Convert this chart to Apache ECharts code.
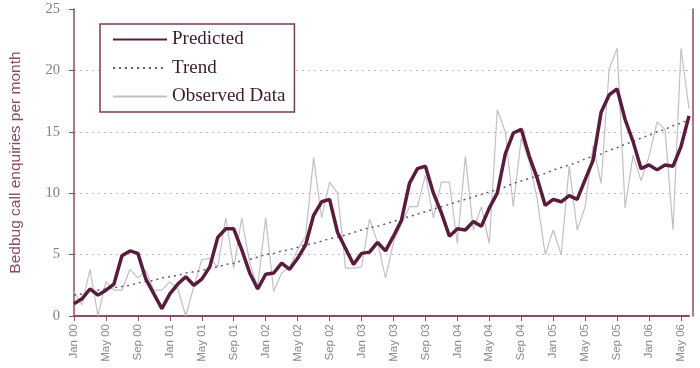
<!DOCTYPE html>
<html><head><meta charset="utf-8">
<script src="https://cdn.jsdelivr.net/npm/echarts@6/dist/echarts.min.js"></script>
<style>html,body{margin:0;padding:0;background:#fff}#c{width:700px;height:368px}</style>
</head><body><div id="c"></div>
<script>
const months = ['Jan 00','Feb 00','Mar 00','Apr 00','May 00','Jun 00','Jul 00','Aug 00','Sep 00','Oct 00','Nov 00','Dec 00',
'Jan 01','Feb 01','Mar 01','Apr 01','May 01','Jun 01','Jul 01','Aug 01','Sep 01','Oct 01','Nov 01','Dec 01',
'Jan 02','Feb 02','Mar 02','Apr 02','May 02','Jun 02','Jul 02','Aug 02','Sep 02','Oct 02','Nov 02','Dec 02',
'Jan 03','Feb 03','Mar 03','Apr 03','May 03','Jun 03','Jul 03','Aug 03','Sep 03','Oct 03','Nov 03','Dec 03',
'Jan 04','Feb 04','Mar 04','Apr 04','May 04','Jun 04','Jul 04','Aug 04','Sep 04','Oct 04','Nov 04','Dec 04',
'Jan 05','Feb 05','Mar 05','Apr 05','May 05','Jun 05','Jul 05','Aug 05','Sep 05','Oct 05','Nov 05','Dec 05',
'Jan 06','Feb 06','Mar 06','Apr 06','May 06','Jun 06'];

const predicted = [1.0,1.4,2.2,1.7,2.1,2.6,4.9,5.3,5.1,3.0,1.8,0.6,
1.8,2.6,3.2,2.5,3.0,4.0,6.4,7.1,7.1,5.4,3.5,2.2,
3.4,3.5,4.3,3.8,4.7,5.8,8.2,9.3,9.5,6.8,5.5,4.2,
5.1,5.2,6.0,5.3,6.5,7.8,10.8,12.0,12.2,10.0,8.4,6.5,
7.1,7.0,7.7,7.3,8.8,10.0,13.2,14.9,15.2,13.0,11.2,9.0,
9.5,9.3,9.8,9.5,11.1,12.7,16.6,18.0,18.5,16.0,14.2,12.0,
12.3,11.9,12.3,12.2,13.8,16.3];

const observed = [2.0,0.9,3.8,0.0,2.8,2.1,2.1,3.8,3.1,3.7,2.1,2.1,
2.8,2.2,0.0,2.4,4.6,4.7,4.0,8.0,3.9,8.0,4.3,2.4,
8.0,2.0,3.5,4.0,5.4,6.5,12.9,8.0,10.9,10.0,3.9,3.9,
4.0,7.9,6.0,3.1,6.0,7.5,8.9,8.9,11.5,8.0,10.9,10.9,
5.9,13.0,7.0,8.9,5.9,16.8,15.0,8.9,14.5,12.6,9.5,5.0,
7.0,5.0,12.2,7.0,8.9,13.9,10.8,20.1,21.8,8.8,13.1,11.0,
13.0,15.8,15.2,7.0,21.8,16.9];

const trend = [1.7,1.8,1.9,2.1,2.2,2.3,2.4,2.5,2.7,2.8,2.9,3.1,
3.2,3.3,3.5,3.6,3.7,3.9,4.0,4.2,4.3,4.5,4.6,4.8,
5.0,5.1,5.3,5.4,5.6,5.8,5.9,6.1,6.3,6.4,6.6,6.8,
7.0,7.2,7.3,7.5,7.7,7.9,8.1,8.3,8.5,8.7,8.9,9.1,
9.3,9.5,9.7,9.9,10.1,10.3,10.5,10.8,11.0,11.2,11.4,11.6,
11.9,12.1,12.3,12.5,12.8,13.0,13.2,13.5,13.7,14.0,14.2,14.5,
14.7,15.0,15.2,15.5,15.7,16.0];

const yTicks = [0,5,10,15,20,25];
const seriesNames = ['Predicted','Trend','Observed Data'];

const axisColor = '#8a4a68';
const chart = echarts.init(document.getElementById('c'));
chart.setOption({
  animation: false,
  backgroundColor: '#ffffff',
  grid: {left: 66, right: 11, top: 9, bottom: 52, containLabel: false},
  legend: {
    data: seriesNames,
    orient: 'vertical',
    left: 100, top: 24,
    padding: [6, 9, 6, 12],
    itemGap: 9.5,
    itemWidth: 54, itemHeight: 14,
    borderColor: '#7a3a5a', borderWidth: 1.5,
    backgroundColor: '#ffffff',
    itemStyle: {opacity: 0, borderWidth: 0},
    textStyle: {fontFamily: 'Liberation Serif', fontSize: 19, color: '#3a1a2c'}
  },
  xAxis: {
    type: 'category', data: months, boundaryGap: false,
    axisLine: {lineStyle: {color: axisColor, width: 2}},
    axisTick: {interval: 3, length: 5, lineStyle: {color: axisColor, width: 1}},
    axisLabel: {interval: 3, rotate: 90, margin: 8, fontFamily: 'Liberation Sans', fontSize: 11.5, color: '#8a8a8a'},
    splitLine: {show: false}
  },
  yAxis: [{
    type: 'value', min: yTicks[0], max: yTicks[yTicks.length-1], interval: 5,
    name: 'Bedbug call enquiries per month', nameLocation: 'middle', nameGap: 50,
    nameTextStyle: {fontFamily: 'Liberation Sans', fontSize: 15.5, color: '#8a4a68'},
    axisLine: {show: true, lineStyle: {color: axisColor, width: 1.5}},
    axisTick: {show: true, length: 5, lineStyle: {color: axisColor}},
    axisLabel: {margin: 14, fontFamily: 'Liberation Serif', fontSize: 14.5, color: '#808080'},
    splitLine: {show: true, showMinLine: false, showMaxLine: false, lineStyle: {color: '#c9b7c0', type: [2, 4], width: 1}}
  }, {
    type: 'value', min: yTicks[0], max: yTicks[yTicks.length-1], interval: 5, position: 'right', offset: 4,
    axisLine: {show: true, lineStyle: {color: axisColor, width: 1.5}},
    axisTick: {show: false}, axisLabel: {show: false}, splitLine: {show: false}
  }],
  series: [
    {name: 'Observed Data', type: 'line', data: observed, symbol: 'none', z: 2,
     lineStyle: {color: '#c4bfc2', width: 1.2}, itemStyle: {color: '#c4bfc2'}},
    {name: 'Trend', type: 'line', data: trend, symbol: 'none', z: 3,
     lineStyle: {color: '#7d5068', width: 1.5, type: [2, 4]}, itemStyle: {color: '#7d5068'}},
    {name: 'Predicted', type: 'line', data: predicted, symbol: 'none', z: 4,
     lineStyle: {color: '#5a1c3c', width: 3.5}, itemStyle: {color: '#5a1c3c'}}
  ]
});
</script></body></html>
